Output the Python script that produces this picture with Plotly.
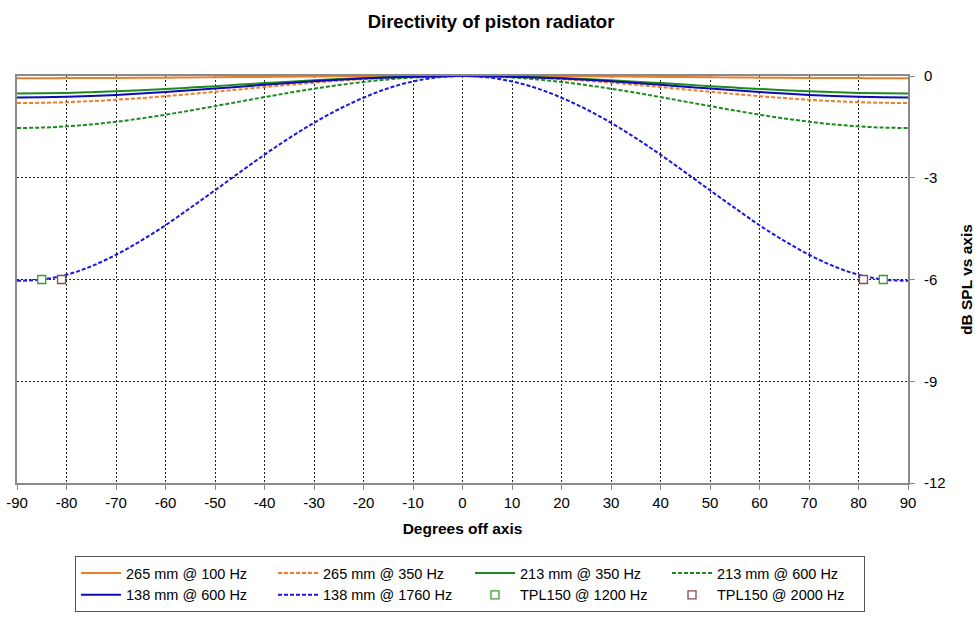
import plotly.graph_objects as go

angles = [-90, -85, -80, -75, -70, -65, -60, -55, -50, -45, -40, -35, -30, -25, -20, -15, -10, -5,
          0, 5, 10, 15, 20, 25, 30, 35, 40, 45, 50, 55, 60, 65, 70, 75, 80, 85, 90]

spl_265_100 = [-0.064, -0.064, -0.062, -0.060, -0.057, -0.053, -0.048, -0.043, -0.038, -0.032, -0.026, -0.021, -0.016, -0.011, -0.007, -0.004, -0.002, -0.001,
               0.0, -0.001, -0.002, -0.004, -0.007, -0.011, -0.016, -0.021, -0.026, -0.032, -0.038, -0.043, -0.048, -0.053, -0.057, -0.060, -0.062, -0.064, -0.064]
spl_265_350 = [-0.796, -0.790, -0.771, -0.742, -0.701, -0.652, -0.594, -0.531, -0.464, -0.395, -0.326, -0.259, -0.197, -0.140, -0.092, -0.053, -0.024, -0.006,
               0.0, -0.006, -0.024, -0.053, -0.092, -0.140, -0.197, -0.259, -0.326, -0.395, -0.464, -0.531, -0.594, -0.652, -0.701, -0.742, -0.771, -0.790, -0.796]
spl_213_350 = [-0.515, -0.512, -0.500, -0.477, -0.451, -0.419, -0.383, -0.342, -0.299, -0.254, -0.210, -0.167, -0.127, -0.091, -0.059, -0.034, -0.015, -0.004,
               0.0, -0.004, -0.015, -0.034, -0.059, -0.091, -0.127, -0.167, -0.210, -0.254, -0.299, -0.342, -0.383, -0.419, -0.451, -0.477, -0.500, -0.512, -0.515]
spl_213_600 = [-1.533, -1.521, -1.485, -1.427, -1.349, -1.252, -1.141, -1.018, -0.888, -0.755, -0.622, -0.494, -0.375, -0.267, -0.175, -0.100, -0.045, -0.011,
               0.0, -0.011, -0.045, -0.100, -0.175, -0.267, -0.375, -0.494, -0.622, -0.755, -0.888, -1.018, -1.141, -1.252, -1.349, -1.427, -1.485, -1.521, -1.533]
spl_138_600 = [-0.632, -0.627, -0.613, -0.589, -0.557, -0.518, -0.473, -0.422, -0.369, -0.314, -0.259, -0.206, -0.157, -0.112, -0.073, -0.042, -0.019, -0.005,
               0.0, -0.005, -0.019, -0.042, -0.073, -0.112, -0.157, -0.206, -0.259, -0.314, -0.369, -0.422, -0.473, -0.518, -0.557, -0.589, -0.613, -0.627, -0.632]
spl_138_1760 = [-6.04, -6.00, -5.86, -5.61, -5.27, -4.86, -4.40, -3.89, -3.37, -2.84, -2.32, -1.83, -1.38, -0.98, -0.64, -0.36, -0.16, -0.04,
                0.0, -0.04, -0.16, -0.36, -0.64, -0.98, -1.38, -1.83, -2.32, -2.84, -3.37, -3.89, -4.40, -4.86, -5.27, -5.61, -5.86, -6.00, -6.04]

tpl_1200_x = [-85, 85]
tpl_1200_y = [-6, -6]
tpl_2000_x = [-81, 81]
tpl_2000_y = [-6, -6]

x_ticks = list(range(-90, 91, 10))
y_ticks = [0, -3, -6, -9, -12]

FONT = "Liberation Sans, Arial, sans-serif"

fig = go.Figure()

lines = [
    ("265 mm @ 100 Hz", spl_265_100, "#EE7D2A", "solid"),
    ("265 mm @ 350 Hz", spl_265_350, "#EE7D2A", "4px,2px"),
    ("213 mm @ 350 Hz", spl_213_350, "#1E8A1E", "solid"),
    ("213 mm @ 600 Hz", spl_213_600, "#1E8A1E", "4px,2px"),
    ("138 mm @ 600 Hz", spl_138_600, "#0C0CB4", "solid"),
    ("138 mm @ 1760 Hz", spl_138_1760, "#1818E0", "4px,2px"),
]
for name, ys, col, dash in lines:
    fig.add_trace(go.Scatter(x=angles, y=ys, mode="lines", name=name,
                             line=dict(color=col, width=2, dash=dash, shape="spline")))

fig.add_trace(go.Scatter(x=tpl_1200_x, y=tpl_1200_y, mode="markers", name="TPL150 @ 1200 Hz",
                         marker=dict(symbol="square", size=8, color="white",
                                     line=dict(color="#3E9A2E", width=1.3))))
fig.add_trace(go.Scatter(x=tpl_2000_x, y=tpl_2000_y, mode="markers", name="TPL150 @ 2000 Hz",
                         marker=dict(symbol="square", size=8, color="white",
                                     line=dict(color="#8A4848", width=1.3))))

fig.update_layout(
    width=975, height=622,
    margin=dict(l=17, r=67, t=76, b=139, autoexpand=False),
    paper_bgcolor="white", plot_bgcolor="white",
    font=dict(family=FONT, size=15, color="black"),
    title=dict(text="<b>Directivity of piston radiator</b>", x=491 / 975, xref="container", xanchor="center",
               y=1 - 22 / 622, yref="container", yanchor="middle", font=dict(size=18.5)),
    showlegend=True,
    legend=dict(orientation="h", x=470 / 975, xanchor="center", xref="container",
                y=1 - 556 / 622, yanchor="top", yref="container",
                bordercolor="#555555", borderwidth=1, entrywidth=142, entrywidthmode="pixels",
                font=dict(size=14.5), itemwidth=40, tracegroupgap=0),
)

fig.update_xaxes(range=[-90, 90], tickvals=x_ticks, ticktext=[str(v) for v in x_ticks],
                 showgrid=True, gridcolor="#222222", griddash="2px,2px", gridwidth=1,
                 showline=True, linecolor="#8a8a8a", linewidth=2, mirror=True,
                 ticks="outside", ticklen=5, tickcolor="#8a8a8a", zeroline=False, automargin=False,
                 ticklabeloverflow="allow",
                 title=dict(text="<b>Degrees off axis</b>", font=dict(size=15.5), standoff=13))
fig.update_yaxes(range=[-12, 0], tickvals=y_ticks, ticktext=[str(v) for v in y_ticks], side="right",
                 showgrid=True, gridcolor="#222222", griddash="2px,2px", gridwidth=1,
                 showline=True, linecolor="#8a8a8a", linewidth=2, mirror=True,
                 ticks="outside", ticklen=5, tickcolor="#8a8a8a", zeroline=False, automargin=False,
                 ticklabelstandoff=6, ticklabeloverflow="allow",
                 title=dict(text="<b>dB SPL vs axis</b>", font=dict(size=15.5), standoff=24))

fig.write_html("out.html", config={"displayModeBar": False},
               post_script="document.body.style.margin='0';")
